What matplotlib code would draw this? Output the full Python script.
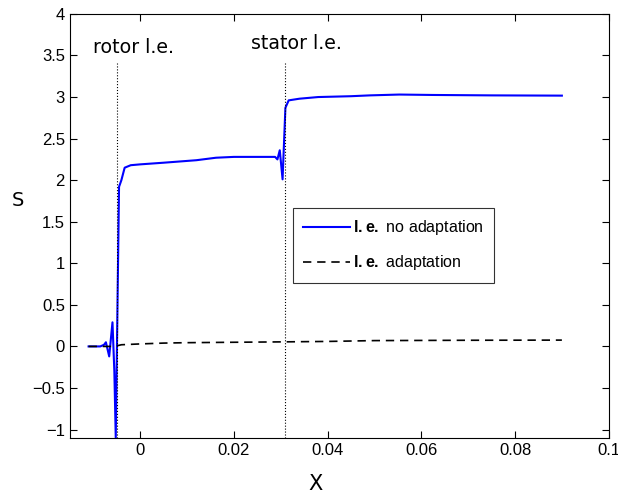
import matplotlib
matplotlib.use("Agg")
import matplotlib.pyplot as plt

plt.rcParams['font.family'] = ['Liberation Sans', 'DejaVu Sans']
plt.rcParams['mathtext.fontset'] = 'custom'
plt.rcParams['mathtext.bf'] = 'Liberation Sans:bold'
plt.rcParams['mathtext.rm'] = 'Liberation Sans'

# blue curve: leading edge, no adaptation
x_noadapt = [-0.011, -0.0085, -0.0077, -0.0073, -0.0066, -0.0059, -0.0055, -0.0052,
             -0.0045, -0.004, -0.0033, -0.002, 0.0, 0.005, 0.012, 0.0162, 0.02,
             0.025, 0.0288, 0.0293, 0.0298, 0.0304, 0.031, 0.0317, 0.034, 0.038,
             0.045, 0.049, 0.0553, 0.0624, 0.075, 0.09]
s_noadapt = [0.0, 0.0, 0.02, 0.05, -0.12, 0.29, -0.3, -1.1,
             1.92, 2.0, 2.15, 2.18, 2.19, 2.21, 2.24, 2.27, 2.28,
             2.28, 2.28, 2.25, 2.36, 2.01, 2.87, 2.96, 2.98, 3.0,
             3.01, 3.02, 3.03, 3.025, 3.02, 3.017]

# dashed curve: leading edge, adaptation
x_adapt = [-0.011, -0.008, -0.0055, -0.004, 0.0, 0.005, 0.01, 0.02, 0.031,
           0.04, 0.05, 0.06, 0.07, 0.08, 0.09]
s_adapt = [0.0, 0.0, 0.0, 0.02, 0.03, 0.04, 0.045, 0.05, 0.055,
           0.06, 0.07, 0.072, 0.074, 0.075, 0.076]

# leading edge positions
rotor_le = -0.005
stator_le = 0.031

fig = plt.figure(figsize=(6.18, 4.97), dpi=100)
ax = fig.add_axes([0.113, 0.119, 0.872, 0.853])

ax.plot(x_noadapt, s_noadapt, color='#0000ff', lw=1.5, label=r'$\mathbf{l.e.}$ no adaptation')
ax.plot(x_adapt, s_adapt, color='k', lw=1.2, dashes=(5, 3.5), label=r'$\mathbf{l.e.}$ adaptation')

ax.plot([rotor_le, rotor_le], [-1.1, 3.41], color='k', lw=0.8, ls=':')
ax.plot([stator_le, stator_le], [-1.1, 3.41], color='k', lw=0.8, ls=':')
ax.text(-0.0015, 3.6, 'rotor l.e.', fontsize=13.7, ha='center', va='center',
        family='DejaVu Sans')
ax.text(0.0334, 3.65, 'stator l.e.', fontsize=13.7, ha='center', va='center',
        family='DejaVu Sans')

ax.set_xlim(-0.015, 0.1)
ax.set_ylim(-1.1, 4)
ax.set_xticks([0, 0.02, 0.04, 0.06, 0.08, 0.1])
ax.set_xticklabels(['0', '0.02', '0.04', '0.06', '0.08', '0.1'])
ax.set_yticks([-1, -0.5, 0, 0.5, 1, 1.5, 2, 2.5, 3, 3.5, 4])
ax.set_yticklabels(['\u22121', '\u22120.5', '0', '0.5', '1', '1.5', '2', '2.5', '3', '3.5', '4'])
ax.tick_params(direction='in', top=True, right=True, labelsize=12, length=5)
ax.set_xlabel('X', fontsize=15, family='DejaVu Sans', va='center')
ax.xaxis.set_label_coords(0.456, -0.108)
ax.set_ylabel('S', fontsize=14, family='DejaVu Sans', rotation=0, va='center', ha='center')
ax.yaxis.set_label_coords(-0.096, 0.561)

leg = ax.legend(loc='lower left', bbox_to_anchor=(0.414, 0.366), borderaxespad=0,
                frameon=True, fancybox=False, edgecolor='k', handlelength=2.9,
                handletextpad=0.2, borderpad=0.65, labelspacing=1.0,
                prop={'family': 'Liberation Sans', 'size': 11.5})
leg.get_frame().set_linewidth(0.8)

fig.savefig('out.png', dpi=100)
